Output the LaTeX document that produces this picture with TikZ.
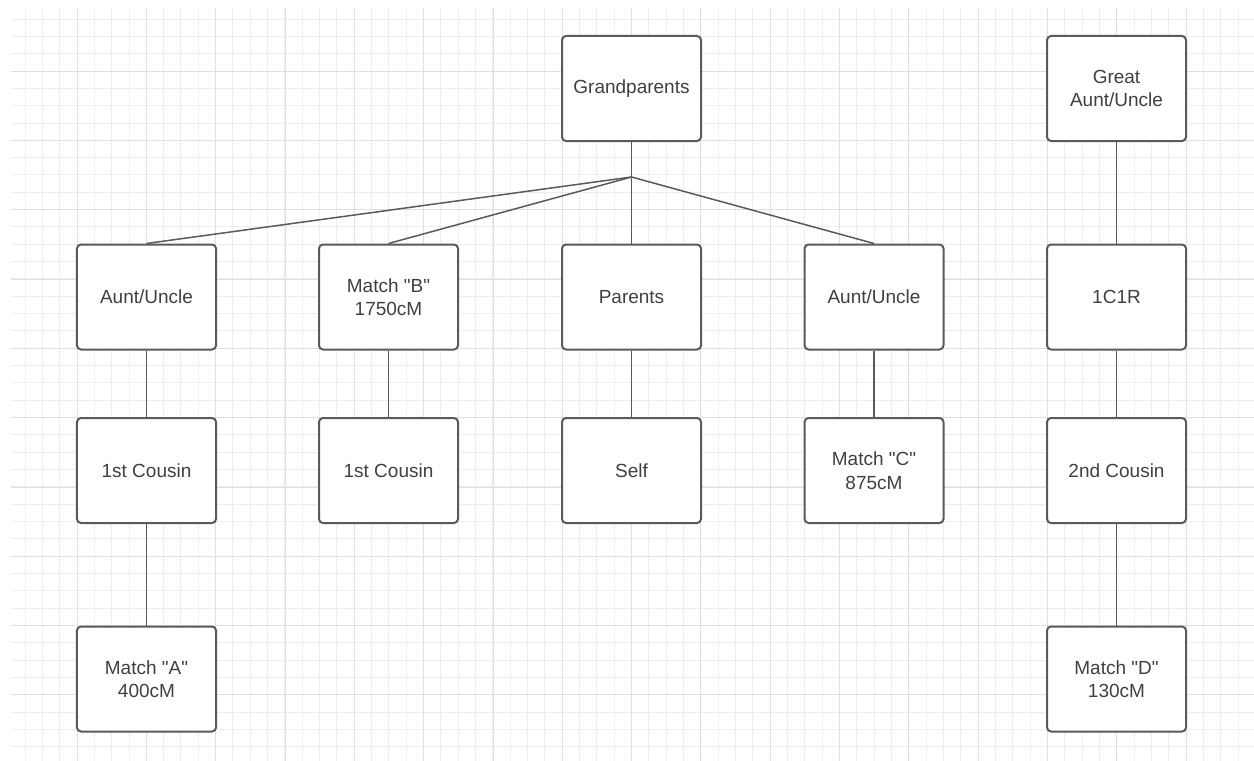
\documentclass[tikz,border=0pt]{standalone}
\usepackage{fontspec}
\setmainfont{Liberation Sans}
\newcommand{\dq}{\XeTeXglyph\XeTeXglyphindex "quotedbl"\relax}
\definecolor{gridminor}{HTML}{EEEEEE}
\definecolor{gridmajor}{HTML}{DFDFDF}
\definecolor{boxline}{HTML}{5A5A5A}
\definecolor{txt}{HTML}{404040}
\tikzset{
  box/.style={draw=boxline, line width=2bp, rounded corners=4bp, fill=white,
    minimum width=139bp, minimum height=105bp, inner sep=0pt, align=center,
    text=txt, font=\fontsize{19bp}{23.5bp}\selectfont},
  conn/.style={draw=boxline, line width=1.5bp},
  minorline/.style={draw=gridminor, line width=1bp},
  majorline/.style={draw=gridmajor, line width=1bp}
}
\begin{document}
\begin{tikzpicture}[x=1bp,y=-1bp]
\useasboundingbox (0,0) rectangle (1254,761);
\fill[white] (0,0) rectangle (1254,761);
\begin{scope}
\clip (11,8) rectangle (1254,761);
\foreach \i in {0,...,72} {
  \pgfmathsetmacro{\gx}{floor(7.67+17.333*\i)+0.5}
  \draw[minorline] (\gx,8) -- (\gx,761);
}
\foreach \i in {0,...,44} {
  \pgfmathsetmacro{\gy}{floor(1.67+17.333*\i)+0.5}
  \draw[minorline] (11,\gy) -- (1254,\gy);
}
\foreach \i in {0,...,18} {
  \pgfmathsetmacro{\gx}{floor(7.67+69.333*\i)+0.5}
  \draw[majorline] (\gx,8) -- (\gx,761);
}
\foreach \i in {0,...,11} {
  \pgfmathsetmacro{\gy}{floor(1.67+69.333*\i)+0.5}
  \draw[majorline] (11,\gy) -- (1254,\gy);
}
\end{scope}

\node[box] (gp)   at (631.5,88.5) {Grandparents};
\node[box] (gau)  at (1116.5,88.5) {Great\\Aunt/Uncle};

\node[box] (au1)  at (146.5,297) {Aunt/Uncle};
\node[box] (mb)   at (388.5,297) {Match \dq B\dq\\1750cM};
\node[box] (par)  at (631.5,297) {Parents};
\node[box] (au2)  at (874,297) {Aunt/Uncle};
\node[box] (c1c1r) at (1116.5,297) {1C1R};

\node[box] (cous1) at (146.5,470.5) {1st Cousin};
\node[box] (cous2) at (388.5,470.5) {1st Cousin};
\node[box] (self)  at (631.5,470.5) {Self};
\node[box] (mc)    at (874,470.5) {Match \dq C\dq\\875cM};
\node[box] (cous3) at (1116.5,470.5) {2nd Cousin};

\node[box] (ma) at (146.5,679) {Match \dq A\dq\\400cM};
\node[box] (md) at (1116.5,679) {Match \dq D\dq\\130cM};

\coordinate (j) at (631.5,177);
\draw[conn] (gp.south) -- (j);
\draw[conn] (j) -- (au1.north);
\draw[conn] (j) -- (mb.north);
\draw[conn] (j) -- (par.north);
\draw[conn] (j) -- (au2.north);

\draw[conn] (au1.south) -- (cous1.north);
\draw[conn] (cous1.south) -- (ma.north);
\draw[conn] (mb.south) -- (cous2.north);
\draw[conn] (par.south) -- (self.north);
\draw[conn] (au2.south) -- (mc.north);

\draw[conn] (gau.south) -- (c1c1r.north);
\draw[conn] (c1c1r.south) -- (cous3.north);
\draw[conn] (cous3.south) -- (md.north);
\end{tikzpicture}
\end{document}
